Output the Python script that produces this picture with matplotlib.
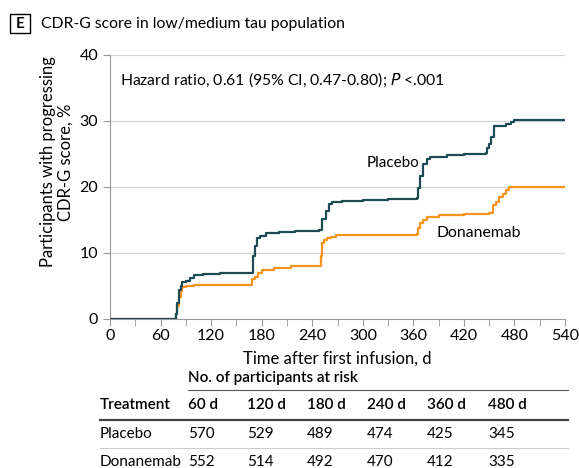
import matplotlib.pyplot as plt
from matplotlib.lines import Line2D
from matplotlib.patches import Rectangle

plt.rcParams['font.family'] = ['Lato', 'DejaVu Sans']

# Kaplan-Meier style cumulative curves (time in days, % progressing)
placebo_t = [0, 78, 80, 82, 84, 86, 90, 95, 100, 110, 130, 150, 168, 170, 172, 175, 178, 185, 200, 220, 248,
             252, 256, 260, 264, 275, 300, 330, 364, 366, 368, 372, 376, 380, 400, 420, 446, 448, 450, 452, 456,
             460, 470, 476, 480, 540]
placebo_y = [0, 0.8, 2.5, 4.4, 5.0, 5.65, 5.7, 6.2, 6.6, 6.8, 6.9, 6.95, 7.0, 9.5, 11.0, 12.2, 12.6, 13.0, 13.2, 13.3, 13.5,
             15.2, 16.3, 17.5, 17.7, 17.9, 18.0, 18.2, 18.3, 19.8, 21.6, 23.5, 24.3, 24.5, 24.9, 25.0, 25.1, 25.9, 26.5, 27.6,
             29.2, 29.3, 29.5, 29.8, 30.2, 30.2]
donanemab_t = [0, 78, 80, 82, 84, 86, 90, 100, 130, 164, 168, 172, 176, 180, 195, 215, 248, 250, 252, 254, 258, 262, 268,
               290, 364, 366, 368, 372, 376, 390, 420, 450, 454, 458, 462, 466, 470, 474, 540]
donanemab_y = [0, 0.8, 2.0, 3.4, 4.2, 4.9, 5.0, 5.1, 5.1, 5.2, 6.0, 6.4, 7.0, 7.4, 7.7, 8.0, 8.1, 9.5, 11.5, 11.9, 12.2, 12.5, 12.7,
               12.8, 12.9, 13.8, 14.5, 15.0, 15.5, 15.8, 15.9, 16.0, 17.3, 17.8, 18.5, 19.0, 19.5, 19.95, 19.95]

# At-risk table
risk_days = ['60 d', '120 d', '180 d', '240 d', '360 d', '480 d']
risk_groups = ['Placebo', 'Donanemab']
risk_placebo = [570, 529, 489, 474, 425, 345]
risk_donanemab = [552, 514, 492, 470, 412, 335]

teal = '#1d4b55'
orange = '#f7941d'
W, H = 579, 468

fig = plt.figure(figsize=(W / 100, H / 100), dpi=100)
ax = fig.add_axes([110 / W, 1 - 319 / H, 455 / W, 264 / H])

ax.plot(donanemab_t, donanemab_y, drawstyle='steps-post', color=orange, lw=1.6, zorder=3)
ax.plot(placebo_t, placebo_y, drawstyle='steps-post', color=teal, lw=1.6, zorder=4)

ax.set_xlim(0, 540)
ax.set_ylim(0, 40)
ax.set_xticks(range(0, 541, 60))
ax.set_xticks(range(30, 541, 60), minor=True)
ax.set_yticks([0, 10, 20, 30, 40])
for y in [10, 20, 30, 40]:
    ax.axhline(y, color='#d4d4d4', lw=0.9, zorder=1)
for s in ['top', 'right']:
    ax.spines[s].set_visible(False)
ax.spines['left'].set_color('#9a9a9a')
ax.spines['bottom'].set_color('#9a9a9a')
ax.tick_params(axis='both', which='both', color='#9a9a9a', labelsize=11.5, length=5)
ax.tick_params(axis='x', which='both', pad=2)
ax.set_xlabel('Time after first infusion, d', fontsize=12, labelpad=6)
ax.set_ylabel('Participants with progressing\nCDR-G score, %', fontsize=12, linespacing=1.1)
ax.yaxis.set_label_coords(-0.081, 0.595)

ax.text(12, 36.2, 'Hazard ratio, 0.61 (95% CI, 0.47-0.80); $\\it{P}$ <.001', fontsize=11.3, va='center')
ax.text(305, 23.6, 'Placebo', fontsize=11, va='center')
ax.text(388, 13.1, 'Donanemab', fontsize=11.3, va='center')

# panel title
fig.patches.append(Rectangle((10 / W, 1 - 33 / H), 20 / W, 19 / H, transform=fig.transFigure,
                             fill=False, ec='black', lw=1.0))
fig.text(20 / W, 1 - 24 / H, 'E', fontsize=11, fontweight='bold', ha='center', va='center')
fig.text(41 / W, 1 - 24 / H, 'CDR-G score in low/medium tau population', fontsize=11.3, va='center')

# at-risk table
col_x = [188, 247, 307, 367, 427, 488]
fig.text(188 / W, 1 - 378 / H, 'No. of participants at risk', fontsize=11, fontweight='semibold', va='center')
fig.lines.append(Line2D([188 / W, 568 / W], [1 - 390 / H] * 2, transform=fig.transFigure, color='#555555', lw=0.8))
fig.text(100 / W, 1 - 405 / H, 'Treatment', fontsize=11, fontweight='semibold', va='center')
for x, d in zip(col_x, risk_days):
    fig.text(x / W, 1 - 405 / H, d, fontsize=11, fontweight='semibold', va='center')
fig.lines.append(Line2D([100 / W, 568 / W], [1 - 420 / H] * 2, transform=fig.transFigure, color='#444444', lw=1.6))
for row_y, name, vals in [(434, risk_groups[0], risk_placebo), (462, risk_groups[1], risk_donanemab)]:
    fig.text(100 / W, 1 - row_y / H, name, fontsize=11, va='center')
    for x, v in zip(col_x, vals):
        fig.text(x / W, 1 - row_y / H, str(v), fontsize=11, va='center')
fig.lines.append(Line2D([100 / W, 568 / W], [1 - 448 / H] * 2, transform=fig.transFigure, color='#cccccc', lw=0.8))

fig.savefig('out.png', dpi=100)
